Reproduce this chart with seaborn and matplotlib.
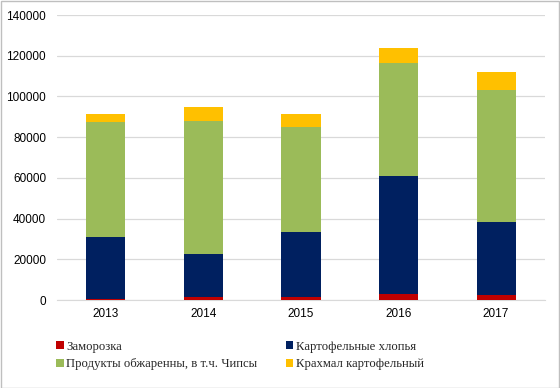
import numpy as np
import pandas as pd
import matplotlib
matplotlib.use("Agg")
import matplotlib.pyplot as plt
import seaborn as sns
from matplotlib.patches import Rectangle, Patch

years = ["2013", "2014", "2015", "2016", "2017"]
zamorozka = [300, 1600, 1600, 2800, 2400]
khlopya = [30700, 21100, 32000, 58300, 35700]
chipsy = [56400, 65400, 51400, 55300, 65100]
krakhmal = [3800, 6600, 6400, 7400, 8800]

names = ["Заморозка", "Картофельные хлопья",
         "Продукты обжаренны, в т.ч. Чипсы", "Крахмал картофельный"]
colors = ["#C00000", "#002060", "#9BBB59", "#FFC000"]

df = pd.DataFrame({"year": years, names[0]: zamorozka, names[1]: khlopya,
                   names[2]: chipsy, names[3]: krakhmal})
cum = df[names].cumsum(axis=1)
cum["year"] = df["year"]

sns.set_style("white")
plt.rcParams["font.family"] = ["Liberation Sans", "DejaVu Sans"]

fig = plt.figure(figsize=(5.6, 3.88), dpi=100)
ax = fig.add_axes([0.102, 0.2268, 0.871, 0.7345])

# stacked bars: draw cumulative totals from top series down
for name, color in reversed(list(zip(names, colors))):
    sns.barplot(data=cum, x="year", y=name, color=color, width=0.4,
                saturation=1, ax=ax, zorder=3, linewidth=0, edgecolor="none")

ax.set_ylim(0, 140000)
ax.set_xlim(-0.5, 4.5)
ax.set_yticks(np.arange(0, 140001, 20000))
ax.yaxis.grid(True, color="#D9D9D9", lw=0.9, zorder=0)
ax.set_axisbelow(True)
for s in ["top", "right", "left"]:
    ax.spines[s].set_visible(False)
ax.spines["bottom"].set_color("#D9D9D9")
ax.tick_params(axis="both", length=0, labelsize=8.5, colors="#000000")
ax.tick_params(axis="x", pad=6)
ax.tick_params(axis="y", pad=8)
ax.set_xlabel("")
ax.set_ylabel("")

# legend fills column-wise: reorder so rows read red/navy, green/yellow
order = [0, 2, 1, 3]
handles = [Patch(facecolor=colors[i], edgecolor="none") for i in order]
labels = [names[i] for i in order]
fig.legend(handles, labels, ncol=2, loc="upper left",
           bbox_to_anchor=(0.091, 0.135), frameon=False,
           prop={"family": "Liberation Serif", "size": 9.2},
           handlelength=0.6, handleheight=0.6, handletextpad=0.2,
           columnspacing=2.2, labelspacing=0.45, borderaxespad=0)

fig.add_artist(Rectangle((0.001, 0.001), 0.997, 0.997, transform=fig.transFigure,
                         fill=False, edgecolor="#BFBFBF", lw=1))

fig.savefig("out.png", dpi=100)
